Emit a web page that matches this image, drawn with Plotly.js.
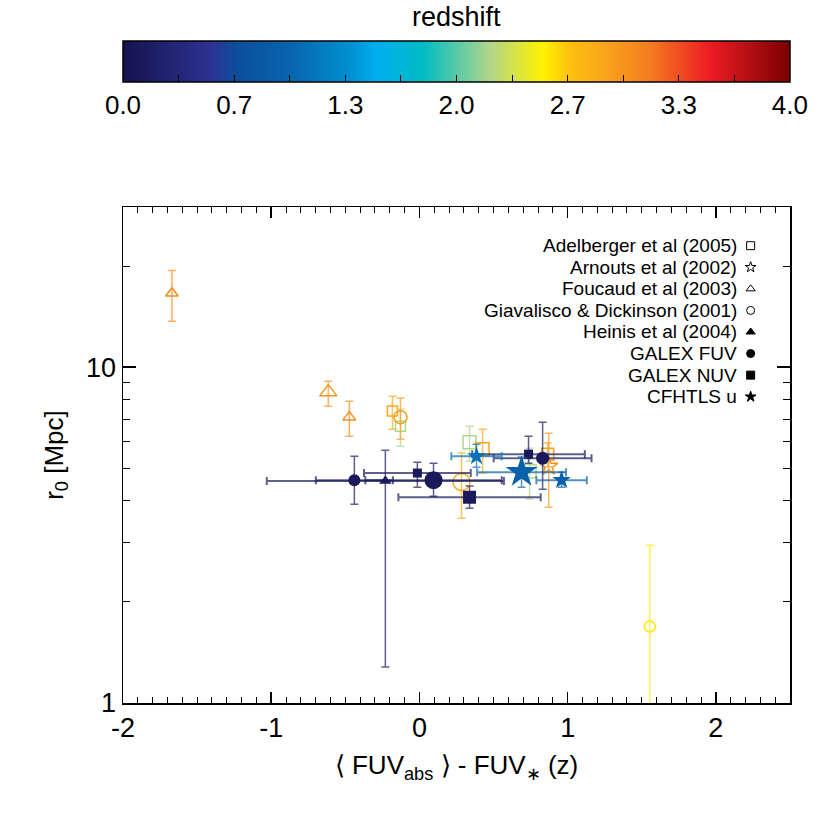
<!DOCTYPE html>
<html>
<head>
<meta charset="utf-8">
<script src="https://cdn.plot.ly/plotly-3.0.1.min.js"></script>
<style>
  html, body { margin: 0; padding: 0; background: #fff; }
  #chart { width: 830px; height: 830px; }
</style>
</head>
<body>
<div id="chart"></div>
<script>
// samples, in legend order
const sources = ['Adelberger et al (2005)', 'Arnouts et al (2002)', 'Foucaud et al (2003)',
  'Giavalisco & Dickinson (2001)', 'Heinis et al (2004)', 'GALEX FUV', 'GALEX NUV', 'CFHTLS u'];

// one entry per measurement (index into sources)
const pointSource = [2, 2, 2, 0, 0, 0, 0, 0, 0, 3, 3, 3, 1, 4, 5, 5, 5, 6, 6, 6, 7, 7, 7];
const fuvOffset   = [-1.67, -0.615, -0.473, -0.182, -0.128, 0.338, 0.426, 0.865, 0.743, -0.128, 0.284, 1.554,
  0.872, -0.230, -0.439, 0.095, 0.831, -0.014, 0.338, 0.736, 0.385, 0.689, 0.959];
const fuvOffsetErr = [0, 0, 0, 0, 0, 0, 0, 0, 0, 0, 0, 0,
  0, 0.80, 0.26, 0.46, 0.33, 0.36, 0.48, 0.38, 0.17, 0.30, 0.17];
const r0   = [16.6, 8.43, 7.10, 7.40, 6.67, 5.98, 5.70, 5.51, 4.90, 7.10, 4.55, 1.69,
  5.07, 4.58, 4.61, 4.61, 5.36, 4.84, 4.10, 5.51, 5.43, 4.87, 4.61];
const r0Hi = [19.4, 9.08, 7.92, 8.20, 7.50, 6.67, 6.54, 5.95, 5.74, 8.09, 5.55, 2.95,
  6.36, 5.66, 5.43, 5.18, 6.86, 5.21, 4.43, 6.23, 5.90, 5.40, 4.87];
const r0Lo = [13.7, 7.65, 6.23, 6.54, 5.82, 5.25, 4.84, 5.05, 4.05, 6.10, 3.55, 0.50,
  3.83, 1.28, 3.91, 4.13, 4.33, 4.39, 3.80, 5.18, 5.04, 4.39, 4.39];
const redshift = [3.05, 3.0, 3.05, 2.85, 2.2, 2.2, 2.85, 2.9, 2.2, 2.95, 2.85, 2.55,
  3.0, 0.15, 0.1, 0.1, 0.1, 0.1, 0.1, 0.1, 1.1, 0.95, 0.95];

const xTickVals = [-2, -1, 0, 1, 2];
const xTickText = ['-2', '-1', '0', '1', '2'];
const cbTickVals = [0, 0.333, 0.667, 1, 1.333, 1.667, 2, 2.333, 2.667, 3, 3.333, 3.667, 3.999];
const cbTickText = ['0.0', '', '0.7', '', '1.3', '', '2.0', '', '2.7', '', '3.3', '', '4.0'];

// styles
const sourceSymbols = ['square-open', 'star-open', 'triangle-up-open', 'circle-open',
  'triangle-up', 'circle', 'square', 'star'];
const pointSize = [11, 15, 11, 10, 10, 13, 13, 12, 13, 13, 17, 11,
  14, 11, 12, 18, 13, 9, 13, 9, 14, 24, 14];

const scaleStops  = [0, 0.13, 0.17, 0.25, 0.34, 0.38, 0.45, 0.55, 0.63, 0.67, 0.72, 0.79, 0.88, 1];
const scaleColors = ['#14134e', '#2e3192', '#0c4e9c', '#0864ad', '#0090d0', '#00aeef', '#00bcc4',
  '#b0d68a', '#fff200', '#fdc010', '#f9a61b', '#f47c20', '#ed1c24', '#7b0000'];
const colorscale = scaleStops.map((s, i) => [s, scaleColors[i]]);

function hexRgb(h) {
  return [1, 3, 5].map(i => parseInt(h.substr(i, 2), 16));
}
function zColor(z, alpha) {
  const t = Math.max(0, Math.min(1, z / 4));
  let i = 0;
  while (i < scaleStops.length - 2 && t > scaleStops[i + 1]) i++;
  const f = (t - scaleStops[i]) / (scaleStops[i + 1] - scaleStops[i]);
  const a = hexRgb(scaleColors[i]), b = hexRgb(scaleColors[i + 1]);
  const c = a.map((v, k) => Math.round(v + (b[k] - v) * f));
  return 'rgba(' + c.join(',') + ',' + (alpha === undefined ? 1 : alpha) + ')';
}

const font = 'Liberation Sans, Arial, Helvetica, sans-serif';
const traces = [];

// open symbols first, filled ones on top
const order = pointSource.map((s, i) => i).sort((a, b) => (pointSource[a] >= 4) - (pointSource[b] >= 4));
order.forEach(function (i) {
  const col = zColor(redshift[i]);
  const errCol = zColor(redshift[i], 0.7);
  const open = pointSource[i] < 4;
  traces.push({
    type: 'scatter', mode: 'markers',
    x: [fuvOffset[i]], y: [r0[i]],
    xaxis: 'x', yaxis: 'y',
    showlegend: false, hoverinfo: 'skip', cliponaxis: true,
    marker: {
      symbol: sourceSymbols[pointSource[i]], size: pointSize[i], color: col,
      line: { width: open ? 1.5 : 0, color: col }
    },
    error_y: {
      type: 'data', symmetric: false,
      array: [r0Hi[i] - r0[i]], arrayminus: [r0[i] - r0Lo[i]],
      color: errCol, thickness: 1.5, width: 4
    },
    error_x: {
      type: 'data', array: [fuvOffsetErr[i]], visible: fuvOffsetErr[i] > 0,
      color: errCol, thickness: 2, width: 4
    }
  });
});

// hidden trace carrying the redshift colour bar (above the plot, paper units)
const plotH = 830 - 207 - 127;
traces.push({
  type: 'scatter', mode: 'markers', x: fuvOffset, y: r0,
  showlegend: false, hoverinfo: 'skip',
  marker: {
    color: redshift, cmin: 0, cmax: 4, colorscale: colorscale, opacity: 0, size: 1,
    showscale: true,
    colorbar: {
      orientation: 'h',
      x: 0.5, xanchor: 'center', y: 1 + (207 - 41) / plotH, yanchor: 'top',
      lenmode: 'fraction', len: 1, thicknessmode: 'pixels', thickness: 41,
      outlinewidth: 1.5, outlinecolor: '#000', xpad: 0, ypad: 0,
      tickmode: 'array', tickvals: cbTickVals, ticktext: cbTickText,
      ticks: 'inside', ticklen: 7, tickwidth: 1, tickcolor: '#000',
      tickfont: { size: 26, family: font, color: '#000' }
    }
  }
});

// legend: label then symbol, drawn on an overlay axis
const legendX = 0.941, legendTop = 0.922, legendStep = 0.0435;
traces.push({
  type: 'scatter', mode: 'markers', xaxis: 'x3', yaxis: 'y3',
  x: sources.map(() => legendX),
  y: sources.map((s, i) => legendTop - i * legendStep),
  showlegend: false, hoverinfo: 'skip',
  marker: { symbol: sourceSymbols, size: 8, color: '#000', line: { width: 1, color: '#000' } }
});
const annotations = sources.map((s, i) => ({
  xref: 'x3', yref: 'y3', x: legendX - 0.017, y: legendTop - i * legendStep,
  text: s.replace('&', '&amp;'), showarrow: false, xanchor: 'right', yanchor: 'middle',
  font: { size: 19, family: font, color: '#000' }
}));
annotations.push({
  xref: 'paper', yref: 'paper', x: 0.5, y: 1 + (207 - 17) / plotH,
  text: 'redshift', showarrow: false, xanchor: 'center', yanchor: 'middle',
  font: { size: 27, family: font, color: '#000' }
});

const layout = {
  width: 830, height: 830,
  margin: { l: 123, r: 40, t: 207, b: 127 },
  paper_bgcolor: '#fff', plot_bgcolor: '#fff',
  font: { family: font, color: '#000' },
  showlegend: false,
  annotations: annotations,
  xaxis: {
    range: [-2, 2.5], tickmode: 'array', tickvals: xTickVals, ticktext: xTickText,
    ticks: 'inside', ticklen: 11, tickwidth: 1.5, tickcolor: '#000',
    showline: true, linewidth: 1.5, linecolor: '#000', mirror: 'allticks',
    showgrid: false, zeroline: false,
    tickfont: { size: 27, family: font },
    minor: { ticks: 'inside', ticklen: 6, tickwidth: 1, tickcolor: '#000', dtick: 0.1, showgrid: false },
    title: { text: '⟨ FUV<sub>abs</sub> ⟩ - FUV<sub>∗</sub> (z)', font: { size: 26, family: font }, standoff: 14 }
  },
  yaxis: {
    type: 'log', range: [0, Math.log10(30)],
    tickmode: 'array', tickvals: [1, 10], ticktext: ['1', '10'],
    ticks: 'inside', ticklen: 13, tickwidth: 1.5, tickcolor: '#000',
    showline: true, linewidth: 1.5, linecolor: '#000', mirror: 'allticks',
    showgrid: false, zeroline: false,
    tickfont: { size: 27, family: font },
    minor: { ticks: 'inside', ticklen: 7, tickwidth: 1, tickcolor: '#000',
      tickmode: 'array', tickvals: [2, 3, 4, 5, 6, 7, 8, 9, 20, 30], showgrid: false },
    title: { text: 'r<sub>0</sub> [Mpc]', font: { size: 26, family: font }, standoff: 15 }
  },
  xaxis3: { overlaying: 'x', range: [0, 1], visible: false, fixedrange: true },
  yaxis3: { overlaying: 'y', anchor: 'x3', range: [0, 1], visible: false, fixedrange: true }
};

Plotly.newPlot('chart', traces, layout, { displayModeBar: false, staticPlot: true });
</script>
</body>
</html>
